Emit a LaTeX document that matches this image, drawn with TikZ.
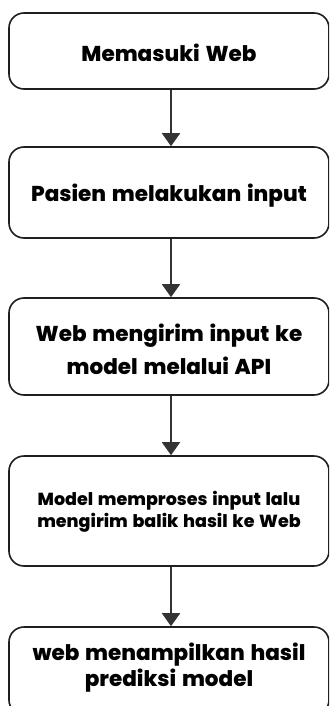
\documentclass[tikz,border=0pt]{standalone}
\usepackage{fontspec}
\setmainfont{Poppins}[BoldFont={Poppins ExtraBold}, WordSpace=1.4]
\usetikzlibrary{arrows.meta}
\newcommand{\upstrut}[1]{\rule{0pt}{#1}}
\newcommand{\dnstrut}[1]{\rule[-#1]{0pt}{0pt}}
\begin{document}
\begin{tikzpicture}[x=1pt,y=-1pt,
  box/.style={draw=black!88, line width=1.6pt, rounded corners=15pt, minimum width=320pt, inner sep=0pt, align=center},
  big/.style={font=\bfseries\fontsize{21.5}{33}\selectfont},
  small/.style={font=\bfseries\fontsize{17.5}{22}\selectfont},
  arr/.style={draw=black!80, line width=1.8pt, -{Triangle[width=18pt,length=13pt]}}]
\clip (0,0) rectangle (329,706);
\fill[white] (0,0) rectangle (329,706);
\node[box, big, minimum height=76pt] (b1) at (169,51) {\upstrut{22pt}Memasuki Web};
\node[box, big, minimum height=91pt] (b2) at (169,192.5) {\upstrut{24pt}Pasien melakukan input};
\node[box, big, minimum height=97pt] (b3) at (169,346.5) {\upstrut{23pt}Web mengirim input ke\\model melalui API};
\node[box, small, minimum height=110pt] (b4) at (169,511) {\upstrut{16pt}Model memproses input lalu\\mengirim balik hasil ke Web};
\node[box, font=\bfseries\fontsize{21.5}{26}\selectfont, minimum height=88pt] (b5) at (169,671) {web menampilkan hasil\\prediksi model\dnstrut{13.5pt}};
\draw[arr] ([xshift=2pt]b1.south) -- ([xshift=2pt]b2.north);
\draw[arr] ([xshift=2pt]b2.south) -- ([xshift=2pt]b3.north);
\draw[arr] ([xshift=2pt]b3.south) -- ([xshift=2pt]b4.north);
\draw[arr] ([xshift=2pt]b4.south) -- ([xshift=2pt]b5.north);
\end{tikzpicture}
\end{document}
